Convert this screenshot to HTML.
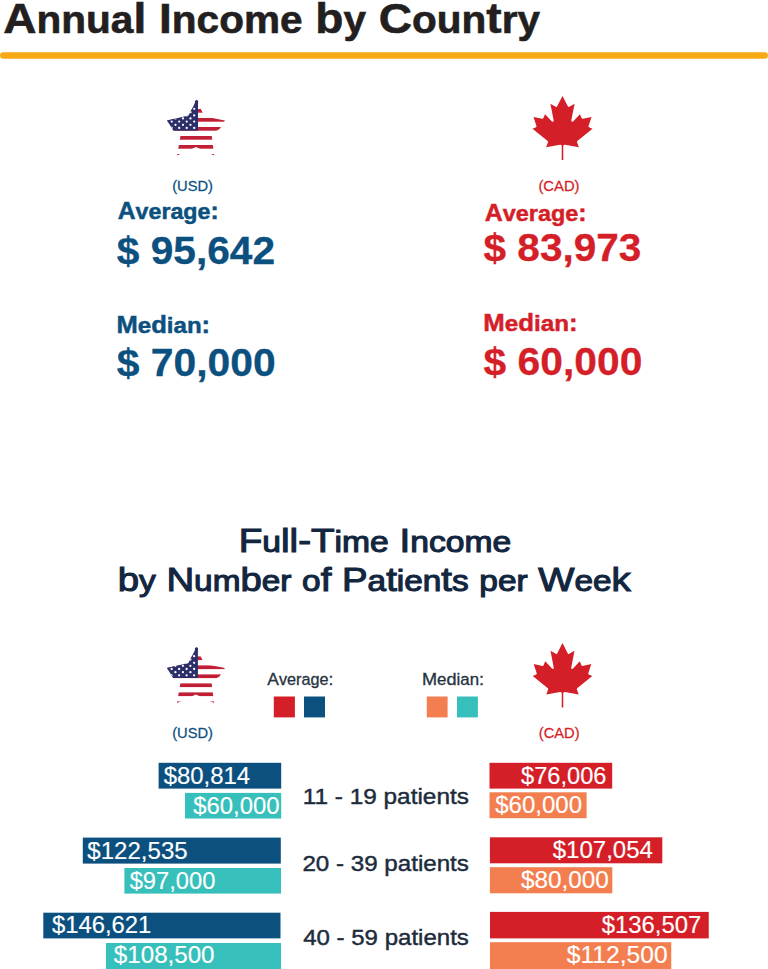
<!DOCTYPE html><html><head><meta charset="utf-8"><style>html,body{margin:0;padding:0;background:#fff;width:768px;height:969px;overflow:hidden}svg{display:block}text{font-family:"Liberation Sans",sans-serif}</style></head><body>
<svg width="768" height="969" viewBox="0 0 768 969">
<rect width="768" height="969" fill="#fff"/>
<line x1="3.3" y1="55.6" x2="764.7" y2="55.6" stroke="#f7a815" stroke-width="6.5" stroke-linecap="round"/>
<rect x="158.60" y="762.80" width="122.60" height="25.80" fill="#0c507f"/>
<rect x="185.00" y="792.90" width="96.20" height="25.60" fill="#37bfbb"/>
<rect x="82.80" y="837.60" width="198.00" height="26.00" fill="#0c507f"/>
<rect x="124.40" y="868.00" width="156.60" height="25.60" fill="#37bfbb"/>
<rect x="43.30" y="912.70" width="237.20" height="25.70" fill="#0c507f"/>
<rect x="106.00" y="943.00" width="175.00" height="26.00" fill="#37bfbb"/>
<rect x="489.50" y="762.80" width="122.70" height="25.80" fill="#d51f28"/>
<rect x="489.50" y="792.30" width="97.10" height="25.90" fill="#f37f50"/>
<rect x="489.90" y="837.30" width="172.40" height="26.00" fill="#d51f28"/>
<rect x="489.90" y="867.20" width="122.40" height="26.10" fill="#f37f50"/>
<rect x="490.00" y="911.90" width="218.75" height="26.50" fill="#d51f28"/>
<rect x="490.00" y="942.20" width="181.25" height="26.80" fill="#f37f50"/>
<rect x="273.80" y="696.50" width="21.10" height="20.90" fill="#d51f28"/>
<rect x="304.00" y="696.50" width="21.00" height="20.90" fill="#0c507f"/>
<rect x="426.80" y="696.50" width="20.80" height="20.90" fill="#f37f50"/>
<rect x="457.00" y="696.50" width="20.90" height="20.90" fill="#37bfbb"/>
<clipPath id="st167100"><polygon points="196.50,100.00 204.50,116.50 225.00,120.50 219.80,128.80 211.50,134.00 214.20,155.60 196.00,147.00 177.00,155.60 180.80,134.00 173.50,130.80 167.00,120.50 188.50,115.50"/></clipPath>
<g clip-path="url(#st167100)">
<rect x="160.00" y="95.00" width="70.00" height="65.00" fill="#fff"/>
<rect x="160.00" y="100.00" width="70.00" height="3.70" fill="#c01f35"/>
<rect x="160.00" y="109.00" width="70.00" height="3.70" fill="#c01f35"/>
<rect x="160.00" y="118.00" width="70.00" height="3.70" fill="#c01f35"/>
<rect x="160.00" y="127.00" width="70.00" height="3.70" fill="#c01f35"/>
<rect x="160.00" y="136.00" width="70.00" height="3.70" fill="#c01f35"/>
<rect x="160.00" y="145.00" width="70.00" height="3.70" fill="#c01f35"/>
<rect x="160.00" y="154.00" width="70.00" height="3.70" fill="#c01f35"/>
<rect x="160.00" y="95.00" width="38.00" height="35.60" fill="#2b2e68"/>
<circle cx="171.70" cy="108.80" r="1.15" fill="#fff"/>
<circle cx="179.20" cy="108.80" r="1.15" fill="#fff"/>
<circle cx="186.70" cy="108.80" r="1.15" fill="#fff"/>
<circle cx="194.20" cy="108.80" r="1.15" fill="#fff"/>
<circle cx="175.50" cy="112.20" r="1.15" fill="#fff"/>
<circle cx="183.00" cy="112.20" r="1.15" fill="#fff"/>
<circle cx="190.50" cy="112.20" r="1.15" fill="#fff"/>
<circle cx="171.70" cy="115.40" r="1.15" fill="#fff"/>
<circle cx="179.20" cy="115.40" r="1.15" fill="#fff"/>
<circle cx="186.70" cy="115.40" r="1.15" fill="#fff"/>
<circle cx="194.20" cy="115.40" r="1.15" fill="#fff"/>
<circle cx="175.50" cy="118.40" r="1.15" fill="#fff"/>
<circle cx="183.00" cy="118.40" r="1.15" fill="#fff"/>
<circle cx="190.50" cy="118.40" r="1.15" fill="#fff"/>
<circle cx="171.70" cy="121.60" r="1.15" fill="#fff"/>
<circle cx="179.20" cy="121.60" r="1.15" fill="#fff"/>
<circle cx="186.70" cy="121.60" r="1.15" fill="#fff"/>
<circle cx="194.20" cy="121.60" r="1.15" fill="#fff"/>
<circle cx="175.50" cy="124.80" r="1.15" fill="#fff"/>
<circle cx="183.00" cy="124.80" r="1.15" fill="#fff"/>
<circle cx="190.50" cy="124.80" r="1.15" fill="#fff"/>
<circle cx="171.70" cy="127.90" r="1.15" fill="#fff"/>
<circle cx="179.20" cy="127.90" r="1.15" fill="#fff"/>
<circle cx="186.70" cy="127.90" r="1.15" fill="#fff"/>
<circle cx="194.20" cy="127.90" r="1.15" fill="#fff"/>
</g>
<circle cx="196.60" cy="101.60" r="1.70" fill="#2b2e68"/>
<clipPath id="st166647"><polygon points="196.40,647.40 204.40,663.90 224.90,667.90 219.70,676.20 211.40,681.40 214.10,703.00 195.90,694.40 176.90,703.00 180.70,681.40 173.40,678.20 166.90,667.90 188.40,662.90"/></clipPath>
<g clip-path="url(#st166647)">
<rect x="159.90" y="642.40" width="70.00" height="65.00" fill="#fff"/>
<rect x="159.90" y="647.40" width="70.00" height="3.70" fill="#c01f35"/>
<rect x="159.90" y="656.40" width="70.00" height="3.70" fill="#c01f35"/>
<rect x="159.90" y="665.40" width="70.00" height="3.70" fill="#c01f35"/>
<rect x="159.90" y="674.40" width="70.00" height="3.70" fill="#c01f35"/>
<rect x="159.90" y="683.40" width="70.00" height="3.70" fill="#c01f35"/>
<rect x="159.90" y="692.40" width="70.00" height="3.70" fill="#c01f35"/>
<rect x="159.90" y="701.40" width="70.00" height="3.70" fill="#c01f35"/>
<rect x="159.90" y="642.40" width="38.00" height="35.60" fill="#2b2e68"/>
<circle cx="171.60" cy="656.20" r="1.15" fill="#fff"/>
<circle cx="179.10" cy="656.20" r="1.15" fill="#fff"/>
<circle cx="186.60" cy="656.20" r="1.15" fill="#fff"/>
<circle cx="194.10" cy="656.20" r="1.15" fill="#fff"/>
<circle cx="175.40" cy="659.60" r="1.15" fill="#fff"/>
<circle cx="182.90" cy="659.60" r="1.15" fill="#fff"/>
<circle cx="190.40" cy="659.60" r="1.15" fill="#fff"/>
<circle cx="171.60" cy="662.80" r="1.15" fill="#fff"/>
<circle cx="179.10" cy="662.80" r="1.15" fill="#fff"/>
<circle cx="186.60" cy="662.80" r="1.15" fill="#fff"/>
<circle cx="194.10" cy="662.80" r="1.15" fill="#fff"/>
<circle cx="175.40" cy="665.80" r="1.15" fill="#fff"/>
<circle cx="182.90" cy="665.80" r="1.15" fill="#fff"/>
<circle cx="190.40" cy="665.80" r="1.15" fill="#fff"/>
<circle cx="171.60" cy="669.00" r="1.15" fill="#fff"/>
<circle cx="179.10" cy="669.00" r="1.15" fill="#fff"/>
<circle cx="186.60" cy="669.00" r="1.15" fill="#fff"/>
<circle cx="194.10" cy="669.00" r="1.15" fill="#fff"/>
<circle cx="175.40" cy="672.20" r="1.15" fill="#fff"/>
<circle cx="182.90" cy="672.20" r="1.15" fill="#fff"/>
<circle cx="190.40" cy="672.20" r="1.15" fill="#fff"/>
<circle cx="171.60" cy="675.30" r="1.15" fill="#fff"/>
<circle cx="179.10" cy="675.30" r="1.15" fill="#fff"/>
<circle cx="186.60" cy="675.30" r="1.15" fill="#fff"/>
<circle cx="194.10" cy="675.30" r="1.15" fill="#fff"/>
</g>
<circle cx="196.50" cy="649.00" r="1.70" fill="#2b2e68"/>
<path fill="#d51f28" transform="translate(562.50,127.77) scale(0.01613,0.01589)" d="m-50 2030 5-863a95 95 0 0 0-111-98l-859 151 116-320a65 65 0 0 0-20-73l-941-762 212-99a65 65 0 0 0 34-79l-186-572 542 115a65 65 0 0 0 73-38l105-247 423 454a65 65 0 0 0 111-57l-204-1052 327 189a65 65 0 0 0 91-27l332-652 332 652a65 65 0 0 0 91 27l327-189-204 1052a65 65 0 0 0 111 57l423-454 105 247a65 65 0 0 0 73 38l542-115-186 572a65 65 0 0 0 34 79l212 99-941 762a65 65 0 0 0-20 73l116 320-859-151a95 95 0 0 0-111 98l5 863z"/>
<path fill="#d51f28" transform="translate(562.50,674.99) scale(0.01599,0.01599)" d="m-50 2030 5-863a95 95 0 0 0-111-98l-859 151 116-320a65 65 0 0 0-20-73l-941-762 212-99a65 65 0 0 0 34-79l-186-572 542 115a65 65 0 0 0 73-38l105-247 423 454a65 65 0 0 0 111-57l-204-1052 327 189a65 65 0 0 0 91-27l332-652 332 652a65 65 0 0 0 91 27l327-189-204 1052a65 65 0 0 0 111 57l423-454 105 247a65 65 0 0 0 73 38l542-115-186 572a65 65 0 0 0 34 79l212 99-941 762a65 65 0 0 0-20 73l116 320-859-151a95 95 0 0 0-111 98l5 863z"/>
<text transform="translate(3.30,32.90) scale(1.0682,1)" font-size="43.14" font-weight="bold" fill="#231f20" stroke="#231f20" stroke-width="0.6" xml:space="preserve"><tspan font-size="43.14">A</tspan><tspan font-size="37.97">nnua</tspan><tspan font-size="43.14">l I</tspan><tspan font-size="37.97">ncome</tspan><tspan font-size="43.14"> b</tspan><tspan font-size="37.97">y</tspan><tspan font-size="43.14"> C</tspan><tspan font-size="37.97">oun</tspan><tspan font-size="43.14">t</tspan><tspan font-size="37.97">ry</tspan></text>
<text transform="translate(172.15,190.78) scale(1.0503,1)" font-size="13.99" font-weight="normal" fill="#0c507f" stroke="#0c507f" stroke-width="0.25" xml:space="preserve">(USD)</text>
<text transform="translate(117.76,219.35) scale(1.0106,1)" font-size="24.43" font-weight="bold" fill="#0c507f" stroke="#0c507f" stroke-width="0.5" xml:space="preserve"><tspan font-size="24.43">A</tspan><tspan font-size="22.96">verage</tspan><tspan font-size="24.43">:</tspan></text>
<text transform="translate(116.75,264.05) scale(1.0246,1)" font-size="39.71" font-weight="bold" fill="#0c507f" stroke="#0c507f" stroke-width="0.3" xml:space="preserve">$ 95,642</text>
<text transform="translate(116.53,333.35) scale(1.0474,1)" font-size="24.43" font-weight="bold" fill="#0c507f" stroke="#0c507f" stroke-width="0.5" xml:space="preserve"><tspan font-size="24.43">M</tspan><tspan font-size="22.96">e</tspan><tspan font-size="24.43">d</tspan><tspan font-size="22.96">ian</tspan><tspan font-size="24.43">:</tspan></text>
<text transform="translate(116.75,376.35) scale(1.0291,1)" font-size="39.71" font-weight="bold" fill="#0c507f" stroke="#0c507f" stroke-width="0.3" xml:space="preserve">$ 70,000</text>
<text transform="translate(538.44,190.68) scale(1.0583,1)" font-size="13.99" font-weight="normal" fill="#d51f28" stroke="#d51f28" stroke-width="0.25" xml:space="preserve">(CAD)</text>
<text transform="translate(484.76,221.45) scale(1.0209,1)" font-size="24.43" font-weight="bold" fill="#d51f28" stroke="#d51f28" stroke-width="0.5" xml:space="preserve"><tspan font-size="24.43">A</tspan><tspan font-size="22.96">verage</tspan><tspan font-size="24.43">:</tspan></text>
<text transform="translate(483.55,261.25) scale(1.0219,1)" font-size="39.71" font-weight="bold" fill="#d51f28" stroke="#d51f28" stroke-width="0.3" xml:space="preserve">$ 83,973</text>
<text transform="translate(483.32,331.35) scale(1.0555,1)" font-size="24.43" font-weight="bold" fill="#d51f28" stroke="#d51f28" stroke-width="0.5" xml:space="preserve"><tspan font-size="24.43">M</tspan><tspan font-size="22.96">e</tspan><tspan font-size="24.43">d</tspan><tspan font-size="22.96">ian</tspan><tspan font-size="24.43">:</tspan></text>
<text transform="translate(483.55,374.75) scale(1.0272,1)" font-size="39.71" font-weight="bold" fill="#d51f28" stroke="#d51f28" stroke-width="0.3" xml:space="preserve">$ 60,000</text>
<text transform="translate(238.65,552.15) scale(1.1644,1)" font-size="33.19" font-weight="normal" fill="#13263f" stroke="#13263f" stroke-width="1.1" xml:space="preserve"><tspan font-size="33.19">F</tspan><tspan font-size="28.87">u</tspan><tspan font-size="33.19">ll-T</tspan><tspan font-size="28.87">ime</tspan><tspan font-size="33.19"> I</tspan><tspan font-size="28.87">ncome</tspan></text>
<text transform="translate(117.72,590.55) scale(1.1361,1)" font-size="33.77" font-weight="normal" fill="#13263f" stroke="#13263f" stroke-width="1.1" xml:space="preserve"><tspan font-size="33.77">b</tspan><tspan font-size="29.38">y</tspan><tspan font-size="33.77"> N</tspan><tspan font-size="29.38">um</tspan><tspan font-size="33.77">b</tspan><tspan font-size="29.38">er</tspan><tspan font-size="33.77"> </tspan><tspan font-size="29.38">o</tspan><tspan font-size="33.77">f P</tspan><tspan font-size="29.38">a</tspan><tspan font-size="33.77">t</tspan><tspan font-size="29.38">ien</tspan><tspan font-size="33.77">t</tspan><tspan font-size="29.38">s</tspan><tspan font-size="33.77"> </tspan><tspan font-size="29.38">per</tspan><tspan font-size="33.77"> W</tspan><tspan font-size="29.38">ee</tspan><tspan font-size="33.77">k</tspan></text>
<text transform="translate(267.26,684.85) scale(1.0366,1)" font-size="16.81" font-weight="normal" fill="#26333f" stroke="#26333f" stroke-width="0.3" xml:space="preserve"><tspan font-size="16.81">A</tspan><tspan font-size="15.63">verage</tspan><tspan font-size="16.81">:</tspan></text>
<text transform="translate(422.01,684.85) scale(1.0788,1)" font-size="16.81" font-weight="normal" fill="#26333f" stroke="#26333f" stroke-width="0.3" xml:space="preserve"><tspan font-size="16.81">M</tspan><tspan font-size="15.63">e</tspan><tspan font-size="16.81">d</tspan><tspan font-size="15.63">ian</tspan><tspan font-size="16.81">:</tspan></text>
<text transform="translate(172.15,737.77) scale(1.0396,1)" font-size="14.13" font-weight="normal" fill="#0c507f" stroke="#0c507f" stroke-width="0.25" xml:space="preserve">(USD)</text>
<text transform="translate(538.75,737.77) scale(1.0396,1)" font-size="14.13" font-weight="normal" fill="#d51f28" stroke="#d51f28" stroke-width="0.25" xml:space="preserve">(CAD)</text>
<text transform="translate(302.73,804.38) scale(1.0614,1)" font-size="22.97" font-weight="normal" fill="#1d2c3c" stroke="#1d2c3c" stroke-width="0.45" xml:space="preserve">11 - 19 patients</text>
<text transform="translate(302.43,871.07) scale(1.0518,1)" font-size="22.97" font-weight="normal" fill="#1d2c3c" stroke="#1d2c3c" stroke-width="0.45" xml:space="preserve">20 - 39 patients</text>
<text transform="translate(303.15,945.07) scale(1.0472,1)" font-size="22.97" font-weight="normal" fill="#1d2c3c" stroke="#1d2c3c" stroke-width="0.45" xml:space="preserve">40 - 59 patients</text>
<text transform="translate(163.74,783.52) scale(1.0151,1)" font-size="23.55" font-weight="normal" fill="#ffffff" stroke="#ffffff" stroke-width="0.15" xml:space="preserve">$80,814</text>
<text transform="translate(193.24,813.82) scale(1.0155,1)" font-size="23.55" font-weight="normal" fill="#ffffff" stroke="#ffffff" stroke-width="0.15" xml:space="preserve">$60,000</text>
<text transform="translate(87.34,858.92) scale(1.0227,1)" font-size="23.55" font-weight="normal" fill="#ffffff" stroke="#ffffff" stroke-width="0.15" xml:space="preserve">$122,535</text>
<text transform="translate(129.64,888.92) scale(1.0072,1)" font-size="23.55" font-weight="normal" fill="#ffffff" stroke="#ffffff" stroke-width="0.15" xml:space="preserve">$97,000</text>
<text transform="translate(51.94,933.32) scale(1.0128,1)" font-size="23.55" font-weight="normal" fill="#ffffff" stroke="#ffffff" stroke-width="0.15" xml:space="preserve">$146,621</text>
<text transform="translate(113.84,963.42) scale(1.0258,1)" font-size="23.55" font-weight="normal" fill="#ffffff" stroke="#ffffff" stroke-width="0.15" xml:space="preserve">$108,500</text>
<text transform="translate(521.04,783.72) scale(1.0036,1)" font-size="23.55" font-weight="normal" fill="#ffffff" stroke="#ffffff" stroke-width="0.15" xml:space="preserve">$76,006</text>
<text transform="translate(495.24,813.12) scale(1.0203,1)" font-size="23.55" font-weight="normal" fill="#ffffff" stroke="#ffffff" stroke-width="0.15" xml:space="preserve">$60,000</text>
<text transform="translate(552.74,858.32) scale(1.0202,1)" font-size="23.55" font-weight="normal" fill="#ffffff" stroke="#ffffff" stroke-width="0.15" xml:space="preserve">$107,054</text>
<text transform="translate(520.93,888.32) scale(1.0333,1)" font-size="23.55" font-weight="normal" fill="#ffffff" stroke="#ffffff" stroke-width="0.15" xml:space="preserve">$80,000</text>
<text transform="translate(601.74,933.32) scale(1.0139,1)" font-size="23.55" font-weight="normal" fill="#ffffff" stroke="#ffffff" stroke-width="0.15" xml:space="preserve">$136,507</text>
<text transform="translate(566.73,963.42) scale(1.0467,1)" font-size="23.55" font-weight="normal" fill="#ffffff" stroke="#ffffff" stroke-width="0.15" xml:space="preserve">$112,500</text>
</svg></body></html>
